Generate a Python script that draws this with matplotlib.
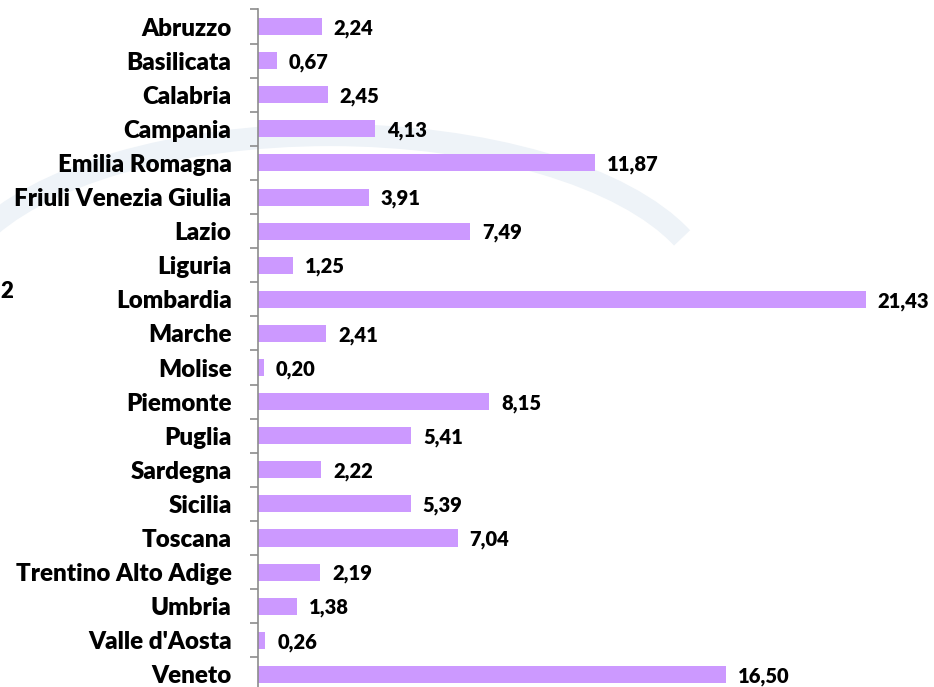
import numpy as np
import matplotlib.pyplot as plt
from matplotlib.patches import Arc

regioni = ["Abruzzo", "Basilicata", "Calabria", "Campania", "Emilia Romagna",
           "Friuli Venezia Giulia", "Lazio", "Liguria", "Lombardia", "Marche",
           "Molise", "Piemonte", "Puglia", "Sardegna", "Sicilia", "Toscana",
           "Trentino Alto Adige", "Umbria", "Valle d'Aosta", "Veneto"]
valori = [2.24, 0.67, 2.45, 4.13, 11.87, 3.91, 7.49, 1.25, 21.43, 2.41,
          0.20, 8.15, 5.41, 2.22, 5.39, 7.04, 2.19, 1.38, 0.26, 16.50]

plt.rcParams['font.family'] = ['Lato', 'DejaVu Sans']

fig = plt.figure(figsize=(9.34, 6.87), dpi=100)

# faint logo in the background
bg = fig.add_axes([0, 0, 1, 1])
bg.set_xlim(0, 934)
bg.set_ylim(687, 0)
bg.axis('off')
bg.add_patch(Arc((330, 300), 760, 330, theta1=190, theta2=350,
                 color='#eef3f8', lw=16))
bg.text(0, 292, "2", fontsize=16, fontweight='heavy', va='center', ha='left')

ax = fig.add_axes([258/934, -0.0065, (934-258)/934, 0.9927])
ax.patch.set_alpha(0)
y = np.arange(len(regioni))
ax.barh(y, valori, height=0.5, color='#cc99ff')
for yi, v in zip(y, valori):
    ax.text(v + 0.42, yi + 0.05, f"{v:.2f}".replace('.', ','),
            va='center', ha='left', fontsize=14.5, fontweight='heavy')

ax.set_xlim(0, 23.83)
ax.set_ylim(len(regioni) - 0.5, -0.5)
ax.set_yticks(y)
ax.set_yticklabels(regioni, fontsize=17.4, fontweight='heavy')
ax.set_yticks(np.arange(len(regioni) + 1) - 0.5, minor=True)
ax.tick_params(axis='y', which='major', length=0, pad=19)
ax.tick_params(axis='y', which='minor', length=6, color='#8c8c8c', width=1.2)
ax.set_xticks([])
for s in ['top', 'right', 'bottom']:
    ax.spines[s].set_visible(False)
ax.spines['left'].set_color('#8c8c8c')
ax.spines['left'].set_linewidth(1.2)

fig.savefig('out.png', dpi=100)
